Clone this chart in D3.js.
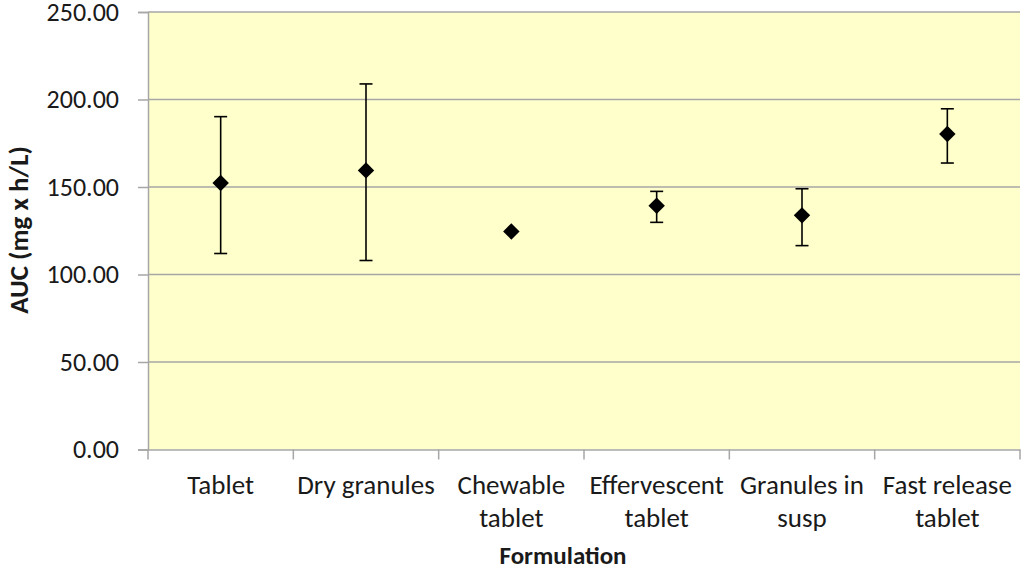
<!DOCTYPE html>
<html><head><meta charset="utf-8">
<script src="https://cdn.jsdelivr.net/npm/d3@7"></script>
<style>
body{margin:0;background:#fff;}
text{font-family:Carlito,Calibri,Lato,"Open Sans",sans-serif;fill:#1a1a1a;}
</style></head>
<body><svg id="c" width="1024" height="570"></svg>
<script>
const categories = [["Tablet"],["Dry granules"],["Chewable","tablet"],["Effervescent","tablet"],["Granules in","susp"],["Fast release","tablet"]];
const means = [152.3, 159.5, 124.6, 139.3, 133.8, 180.3];
const upper = [190.2, 208.9, 124.6, 147.5, 149.0, 194.7];
const lower = [112.0, 108.0, 124.6, 129.8, 116.5, 163.7];
const yTicks = [0, 50, 100, 150, 200, 250];

const svg = d3.select("#c");
const m = {l:148, r:1020, t:12, b:449.5};
const x = d3.scaleBand().domain(d3.range(categories.length)).range([m.l, m.r]);
const y = d3.scaleLinear().domain([0,250]).range([m.b, m.t]);

svg.append("rect").attr("x",m.l).attr("y",m.t).attr("width",m.r-m.l).attr("height",m.b-m.t).attr("fill","#FFFFCC");

// gridlines
svg.append("g").selectAll("line").data(yTicks.filter(d=>d>0)).join("line")
  .attr("x1",m.l).attr("x2",m.r).attr("y1",d=>y(d)).attr("y2",d=>y(d))
  .attr("stroke","#a6a6a6").attr("stroke-width",1.5);

// y axis
const yAxis = svg.append("g").attr("transform",`translate(${m.l},0)`)
  .call(d3.axisLeft(y).tickValues(yTicks).tickFormat(d3.format(".2f")).tickSize(10).tickPadding(19));
yAxis.select(".domain").attr("stroke","#a6a6a6").attr("stroke-width",1.5);
yAxis.selectAll(".tick line").attr("stroke","#a6a6a6").attr("stroke-width",1.5);
yAxis.selectAll(".tick text").attr("font-size",26).attr("fill","#1a1a1a").style("font-family","Carlito,Calibri,Lato,sans-serif");

// x axis
const xAxis = svg.append("g").attr("transform",`translate(0,${m.b})`)
  .call(d3.axisBottom(x).tickSize(0).tickFormat(""));
xAxis.select(".domain").attr("stroke","#a6a6a6").attr("stroke-width",1.5);
const bounds = d3.range(categories.length+1).map(i=> i<categories.length ? x(i) : x(i-1)+x.bandwidth());
svg.append("g").selectAll("line").data(bounds).join("line")
  .attr("x1",d=>d).attr("x2",d=>d).attr("y1",m.b).attr("y2",m.b+10)
  .attr("stroke","#a6a6a6").attr("stroke-width",1.5);

// category labels
const lab = svg.append("g").selectAll("text").data(categories).join("text")
  .attr("x",(d,i)=>x(i)+x.bandwidth()/2).attr("y",494)
  .attr("text-anchor","middle").attr("font-size",27);
lab.selectAll("tspan").data(d=>d).join("tspan")
  .attr("x",function(){return this.parentNode.getAttribute("x");})
  .attr("dy",(d,i)=>i?33:0).text(d=>d);

// error bars
const g = svg.append("g");
const idx = d3.range(means.length).filter(i=>upper[i]!==lower[i]);
g.selectAll(".v").data(idx).join("line")
  .attr("x1",i=>x(i)+x.bandwidth()/2).attr("x2",i=>x(i)+x.bandwidth()/2)
  .attr("y1",i=>y(upper[i])).attr("y2",i=>y(lower[i]))
  .attr("stroke","#000").attr("stroke-width",1.6);
["upper","lower"].forEach(k=>{
  const arr = k==="upper"?upper:lower;
  g.selectAll("."+k).data(idx).join("line")
    .attr("x1",i=>x(i)+x.bandwidth()/2-6.5).attr("x2",i=>x(i)+x.bandwidth()/2+6.5)
    .attr("y1",i=>y(arr[i])).attr("y2",i=>y(arr[i]))
    .attr("stroke","#000").attr("stroke-width",1.6);
});
// markers
g.selectAll("path").data(means).join("path")
  .attr("d",d3.symbol(d3.symbolSquare, 135))
  .attr("transform",(d,i)=>`translate(${x(i)+x.bandwidth()/2},${y(d)}) rotate(45)`)
  .attr("fill","#000");

// axis titles
svg.append("text").attr("x",563).attr("y",564).attr("text-anchor","middle")
  .attr("font-size",25).attr("font-weight","bold").text("Formulation");
svg.append("text").attr("transform","translate(28,230) rotate(-90)").attr("text-anchor","middle")
  .attr("font-size",27).attr("font-weight","bold").text("AUC (mg x h/L)");
</script></body></html>
